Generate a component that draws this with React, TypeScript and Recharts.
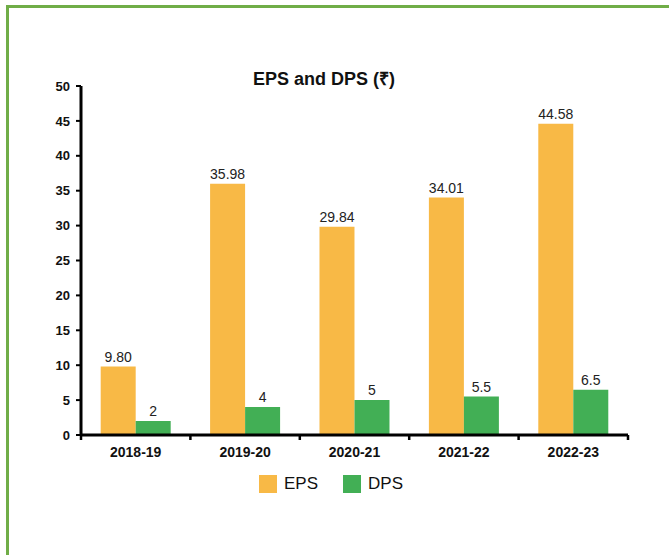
import { Bar, BarChart, LabelList, XAxis, YAxis } from "recharts"

const years = ["2018-19", "2019-20", "2020-21", "2021-22", "2022-23"]
const eps = [9.8, 35.98, 29.84, 34.01, 44.58]
const dps = [2, 4, 5, 5.5, 6.5]
const epsLabels = ["9.80", "35.98", "29.84", "34.01", "44.58"]
const dpsLabels = ["2", "4", "5", "5.5", "6.5"]
const yTicks = [0, 5, 10, 15, 20, 25, 30, 35, 40, 45, 50]

const data = years.map((year, i) => ({
  year,
  eps: eps[i],
  dps: dps[i],
  epsLabel: epsLabels[i],
  dpsLabel: dpsLabels[i]
}))

const W = 669
const H = 555
const margin = { top: 86, right: 41, bottom: 90, left: 21 }
const yAxisWidth = 60
const plotWidth = W - margin.left - margin.right - yAxisWidth

const font = "'Liberation Sans', Arial, sans-serif"
const colors = { eps: "#F8B946", dps: "#42AF55", frame: "#70AD47" }

const legendItems = [
  { name: "EPS", color: colors.eps },
  { name: "DPS", color: colors.dps }
]

function CategoryTick(props: any) {
  const { x, y, payload, index } = props
  const band = plotWidth / years.length
  const axisY = y - 10
  const left = x - band / 2
  return (
    <g>
      <line x1={left} x2={left} y1={axisY} y2={axisY + 5} stroke="#000" strokeWidth={2.5} />
      {index === years.length - 1 && (
        <line x1={left + band} x2={left + band} y1={axisY} y2={axisY + 5} stroke="#000" strokeWidth={2.5} />
      )}
      <text x={x} y={y} dy={12} textAnchor="middle" fontSize={14} fontWeight="bold" fill="#111" fontFamily={font}>
        {payload.value}
      </text>
    </g>
  )
}

function ChartLegend() {
  return (
    <div
      style={{
        position: "absolute",
        top: 474,
        left: 0,
        width: 662,
        display: "flex",
        justifyContent: "center",
        gap: 25,
        fontFamily: font,
        fontSize: 17,
        color: "#111"
      }}
    >
      {legendItems.map((it) => (
        <div key={it.name} style={{ display: "flex", alignItems: "center", gap: 7 }}>
          <span style={{ width: 18, height: 18, background: it.color, display: "inline-block" }} />
          <span>{it.name}</span>
        </div>
      ))}
    </div>
  )
}

export default function App() {
  return (
    <div style={{ position: "absolute", left: 0, top: 0, width: W, height: H, background: "#fff", overflow: "hidden" }}>
      <div
        style={{
          position: "absolute",
          left: 6,
          top: 5,
          width: W,
          height: H,
          borderTop: `3px solid ${colors.frame}`,
          borderLeft: `3px solid ${colors.frame}`
        }}
      />
      <div
        style={{
          position: "absolute",
          left: 224,
          width: 200,
          top: 66,
          textAlign: "center",
          fontFamily: font,
          fontSize: 18,
          fontWeight: "bold",
          color: "#111",
          whiteSpace: "nowrap"
        }}
      >
        EPS and DPS (₹)
      </div>
      <BarChart
        width={W}
        height={H}
        data={data}
        margin={margin}
        barCategoryGap="18%"
        barGap={0}
        style={{ position: "absolute", left: 0, top: 0 }}
      >
        <XAxis
          dataKey="year"
          tickLine={false}
          tickSize={4}
          tickMargin={6}
          axisLine={{ stroke: "#000", strokeWidth: 3 }}
          tick={<CategoryTick />}
          height={30}
          interval={0}
        />
        <YAxis
          width={yAxisWidth}
          domain={[0, 50]}
          ticks={yTicks}
          interval={0}
          tickSize={5}
          tickMargin={6}
          axisLine={{ stroke: "#000", strokeWidth: 3 }}
          tickLine={{ stroke: "#000", strokeWidth: 2 }}
          tick={{ fontSize: 13, fontWeight: "bold", fill: "#111", fontFamily: font }}
        />
        <Bar dataKey="eps" name="EPS" fill={colors.eps} isAnimationActive={false}>
          <LabelList dataKey="epsLabel" position="top" offset={5} fontSize={14} fill="#222" fontFamily={font} />
        </Bar>
        <Bar dataKey="dps" name="DPS" fill={colors.dps} isAnimationActive={false}>
          <LabelList dataKey="dpsLabel" position="top" offset={5} fontSize={14} fill="#222" fontFamily={font} />
        </Bar>
      </BarChart>
      <ChartLegend />
    </div>
  )
}
